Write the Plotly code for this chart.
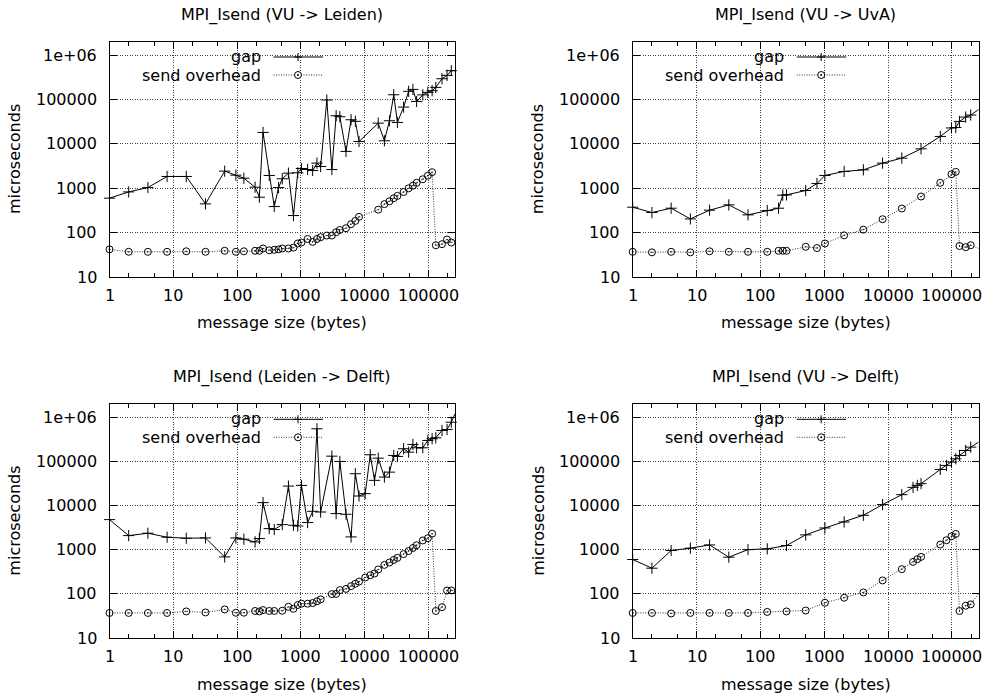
import math
import plotly.graph_objects as go

# ---------------- data ----------------
titles = ["MPI_Isend (VU -> Leiden)", "MPI_Isend (VU -> UvA)",
          "MPI_Isend (Leiden -> Delft)", "MPI_Isend (VU -> Delft)"]

size_vu_leiden = [1, 2, 4, 8, 16, 32, 64, 96, 128, 192, 224, 256, 320, 384, 448, 512, 640, 768, 896, 1024,
                  1280, 1536, 1792, 2048, 2560, 3072, 3584, 4096, 5120, 6144, 7168, 8192, 16384, 20480,
                  24576, 28672, 32768, 40960, 49152, 57344, 65536, 81920, 98304, 114688, 131072, 163840,
                  196608, 229376, 262144]
gap_vu_leiden = [600, 830, 1040, 1850, 1850, 446, 2440, 1980, 1690, 1060, 630, 18200, 1950, 388, 1040, 1640,
                 2200, 243, 2240, 2800, 2660, 2520, 3700, 3100, 98000, 2650, 43400, 41100, 6800, 35200, 32400,
                 11400, 29500, 11800, 33400, 129000, 30600, 68000, 154000, 170000, 91000, 128000, 146000,
                 159000, 189000, 296000, 353000, 450000, 450000]
ovh_vu_leiden = [42, 37, 37, 37, 38, 37, 39, 37, 38, 39, 39, 44, 40, 41, 42, 44, 44, 46, 57, 60, 72, 62, 72, 79,
                 86, 86, 102, 115, 126, 155, 184, 228, 330, 440, 510, 598, 675, 825, 1000, 1150, 1330, 1600,
                 1930, 2310, 52, 55, 70, 60, 77]

size_vu_uva = [1, 2, 4, 8, 16, 32, 64, 128, 192, 224, 256, 512, 768, 1024, 2048, 4096, 8192, 16384, 32768,
               65536, 98304, 114688, 131072, 163840, 196608, 262144]
gap_vu_uva = [375, 284, 356, 204, 321, 423, 252, 315, 356, 700, 711, 892, 1280, 1950, 2400, 2610, 3700, 4790,
              7770, 14800, 23000, 23500, 32300, 40500, 44900, 60000]
ovh_vu_uva = [37, 36, 37, 36, 38, 37, 37, 37, 39, 39, 39, 48, 45, 57, 87, 117, 201, 350, 653, 1330, 2080, 2350,
              50, 47, 52, 44]

size_leiden_delft = [1, 2, 4, 8, 16, 32, 64, 96, 128, 192, 224, 256, 320, 384, 512, 640, 768, 896, 1024, 1280,
                     1536, 1792, 2048, 3072, 3584, 4096, 5120, 6144, 7168, 8192, 10240, 12288, 14336, 16384,
                     20480, 24576, 28672, 32768, 40960, 49152, 57344, 65536, 81920, 98304, 114688, 131072,
                     163840, 196608, 229376, 262144]
gap_leiden_delft = [4840, 2100, 2380, 1930, 1830, 1860, 690, 1860, 1740, 1510, 1800, 11750, 3030, 2880, 3730,
                    27900, 3600, 3470, 28900, 4150, 7470, 555000, 7190, 133000, 6630, 101000, 6390, 1960, 53200,
                    16600, 18800, 143000, 37600, 120000, 44600, 57800, 138000, 131000, 196000, 164000, 245000,
                    206000, 206000, 302000, 330000, 347000, 508000, 536000, 783000, 1210000]
ovh_leiden_delft = [37, 37, 37, 37, 40, 38, 44.5, 37.4, 37.5, 41, 40, 43, 41, 41, 41.5, 51, 46, 56, 60, 60, 62,
                    68, 75, 99, 100, 122, 130, 150, 170, 190, 235, 265, 290, 358, 455, 515, 590, 656, 800, 940,
                    1100, 1270, 1630, 1830, 2320, 41, 50, 119, 120, 120]

size_vu_delft = [1, 2, 4, 8, 16, 32, 64, 128, 256, 512, 1024, 2048, 4096, 8192, 16384, 24576, 28672, 32768,
                 65536, 81920, 98304, 114688, 131072, 163840, 196608, 262144]
gap_vu_delft = [602, 383, 963, 1090, 1290, 680, 1010, 1050, 1250, 2180, 3130, 4280, 6070, 10600, 17800, 26100,
                28900, 31600, 66400, 82000, 97700, 116000, 138000, 179000, 213000, 277000]
ovh_vu_delft = [37, 37, 36, 37, 37, 37, 37, 39, 40, 42, 63, 82, 108, 202, 364, 533, 613, 692, 1315, 1650, 2030,
                2290, 41, 54, 58, 102]

x_tickvals = [1, 10, 100, 1000, 10000, 100000]
x_ticktext = ["1", "10", "100", "1000", "10000", "100000"]
x_minorvals = [2, 5, 20, 50, 200, 500, 2000, 5000, 20000, 50000, 200000]
y_tickvals = [10, 100, 1000, 10000, 100000, 1000000]
y_ticktext = ["10", "100", "1000", "10000", "100000", "1e+06"]
series_names = ["gap", "send overhead"]
x_title = "message size (bytes)"
y_title = "microseconds"

panels_data = [
    (size_vu_leiden, gap_vu_leiden, ovh_vu_leiden),
    (size_vu_uva, gap_vu_uva, ovh_vu_uva),
    (size_leiden_delft, gap_leiden_delft, ovh_leiden_delft),
    (size_vu_delft, gap_vu_delft, ovh_vu_delft),
]

# ---------------- layout geometry (pixels) ----------------
W, H = 983, 695
boxes = [
    dict(L=109.5, R=455.0, T=42.0, B=277.0),
    dict(L=632.7, R=978.7, T=42.0, B=277.0),
    dict(L=109.5, R=455.0, T=404.3, B=638.0),
    dict(L=632.7, R=978.7, T=404.3, B=638.0),
]

def px(x):
    return x / W

def py(y):
    return 1 - y / H

FONT = "DejaVu Sans"
FS = 16
GRID = "#404040"
DOT = "1px,1.5px"

fig = go.Figure()
annotations = []
shapes = []
axes = {}

def txt(text, **kw):
    d = dict(text=text, showarrow=False, font=dict(family=FONT, size=FS, color="black"))
    d.update(kw)
    return d

for i, (b, (xs, gap, ovh)) in enumerate(zip(boxes, panels_data)):
    n = "" if i == 0 else str(i + 1)
    xa, ya = "x" + n, "y" + n
    fig.add_trace(go.Scatter(x=xs, y=gap, mode="lines+markers", name=series_names[0],
                             xaxis=xa, yaxis=ya, cliponaxis=False,
                             line=dict(color="black", width=1),
                             marker=dict(symbol="cross-thin-open", size=8,
                                         line=dict(color="black", width=1))))
    fig.add_trace(go.Scatter(x=xs, y=ovh, mode="lines+markers", name=series_names[1],
                             xaxis=xa, yaxis=ya, cliponaxis=False,
                             line=dict(color="#333333", width=1, dash=DOT),
                             marker=dict(symbol="circle-open-dot", size=7, color="black",
                                         line=dict(color="black", width=1))))
    axes["xaxis" + n] = dict(
        type="log", range=[0, 5.4185], domain=[px(b["L"]), px(b["R"])], anchor=ya,
        showline=True, linecolor="black", linewidth=1, mirror="allticks",
        ticks="inside", ticklen=7, tickcolor="black", tickwidth=1,
        showgrid=True, gridcolor=GRID, gridwidth=1, griddash=DOT,
        zeroline=False, automargin=False, showticklabels=False,
        tickmode="array", tickvals=x_tickvals,
        minor=dict(tickmode="array", tickvals=x_minorvals, ticks="inside",
                   ticklen=4, tickcolor="black", showgrid=False))
    axes["yaxis" + n] = dict(
        type="log", range=[1, 6.3], domain=[py(b["B"]), py(b["T"])], anchor=xa,
        showline=True, linecolor="black", linewidth=1, mirror="allticks",
        ticks="inside", ticklen=7, tickcolor="black", tickwidth=1,
        showgrid=True, gridcolor=GRID, gridwidth=1, griddash=DOT,
        zeroline=False, automargin=False, showticklabels=False,
        tickmode="array", tickvals=y_tickvals)
    # tick labels (placed at the axis' own tick values)
    for v, t in zip(x_tickvals, x_ticktext):
        annotations.append(txt(t, xref=xa, x=math.log10(v), yref="paper", y=py(b["B"] + 18),
                               xanchor="center", yanchor="middle"))
    for v, t in zip(y_tickvals, y_ticktext):
        annotations.append(txt(t, xref="paper", x=px(b["L"] - 11), yref=ya, y=math.log10(v),
                               xanchor="right", yanchor="middle"))
    cx = (b["L"] + b["R"]) / 2
    cy = (b["T"] + b["B"]) / 2
    annotations.append(txt(titles[i], xref="paper", yref="paper", x=px(cx), y=py(b["T"] - 27),
                           xanchor="center", yanchor="middle"))
    annotations.append(txt(x_title, xref="paper", yref="paper", x=px(cx), y=py(b["B"] + 46),
                           xanchor="center", yanchor="middle"))
    annotations.append(txt(y_title, xref="paper", yref="paper", x=px(b["L"] - 95), y=py(cy),
                           xanchor="center", yanchor="middle", textangle=-90))
    # key (gnuplot style: text right-aligned, sample on the right)
    L, T = b["L"], b["T"]
    shapes.append(dict(type="rect", xref="paper", yref="paper", layer="between",
                       x0=px(L + 1), x1=px(L + 223.5), y0=py(T + 45), y1=py(T + 1),
                       fillcolor="white", line=dict(width=0)))
    text_rows = [T + 14.5, T + 33.5]
    for r, name in zip(text_rows, series_names):
        annotations.append(txt(name, xref="paper", yref="paper", x=px(L + 153), y=py(r),
                               xanchor="right", yanchor="middle", height=19))
    rows = [T + 15, T + 33]
    mx = L + 188.5
    shapes.append(dict(type="line", xref="paper", yref="paper", x0=px(L + 164), x1=px(L + 213.5),
                       y0=py(rows[0]), y1=py(rows[0]), line=dict(color="black", width=1)))
    shapes.append(dict(type="line", xref="paper", yref="paper", x0=px(mx - 4), x1=px(mx + 4),
                       y0=py(rows[0]), y1=py(rows[0]), line=dict(color="black", width=1)))
    shapes.append(dict(type="line", xref="paper", yref="paper", x0=px(mx), x1=px(mx),
                       y0=py(rows[0] - 4), y1=py(rows[0] + 4), line=dict(color="black", width=1)))
    shapes.append(dict(type="line", xref="paper", yref="paper", x0=px(L + 164), x1=px(L + 213.5),
                       y0=py(rows[1]), y1=py(rows[1]), line=dict(color="#333333", width=1, dash=DOT)))
    shapes.append(dict(type="circle", xref="paper", yref="paper", x0=px(mx - 3.5), x1=px(mx + 3.5),
                       y0=py(rows[1] + 3.5), y1=py(rows[1] - 3.5), fillcolor="white",
                       line=dict(color="black", width=1)))
    shapes.append(dict(type="circle", xref="paper", yref="paper", x0=px(mx - 1), x1=px(mx + 1),
                       y0=py(rows[1] + 1), y1=py(rows[1] - 1), fillcolor="black",
                       line=dict(color="black", width=0)))

fig.update_layout(width=W, height=H, margin=dict(l=0, r=0, t=0, b=0), autosize=False,
                  paper_bgcolor="white", plot_bgcolor="white", showlegend=False,
                  font=dict(family=FONT, size=FS, color="black"),
                  annotations=annotations, shapes=shapes, **axes)
fig.write_html("out.html")
